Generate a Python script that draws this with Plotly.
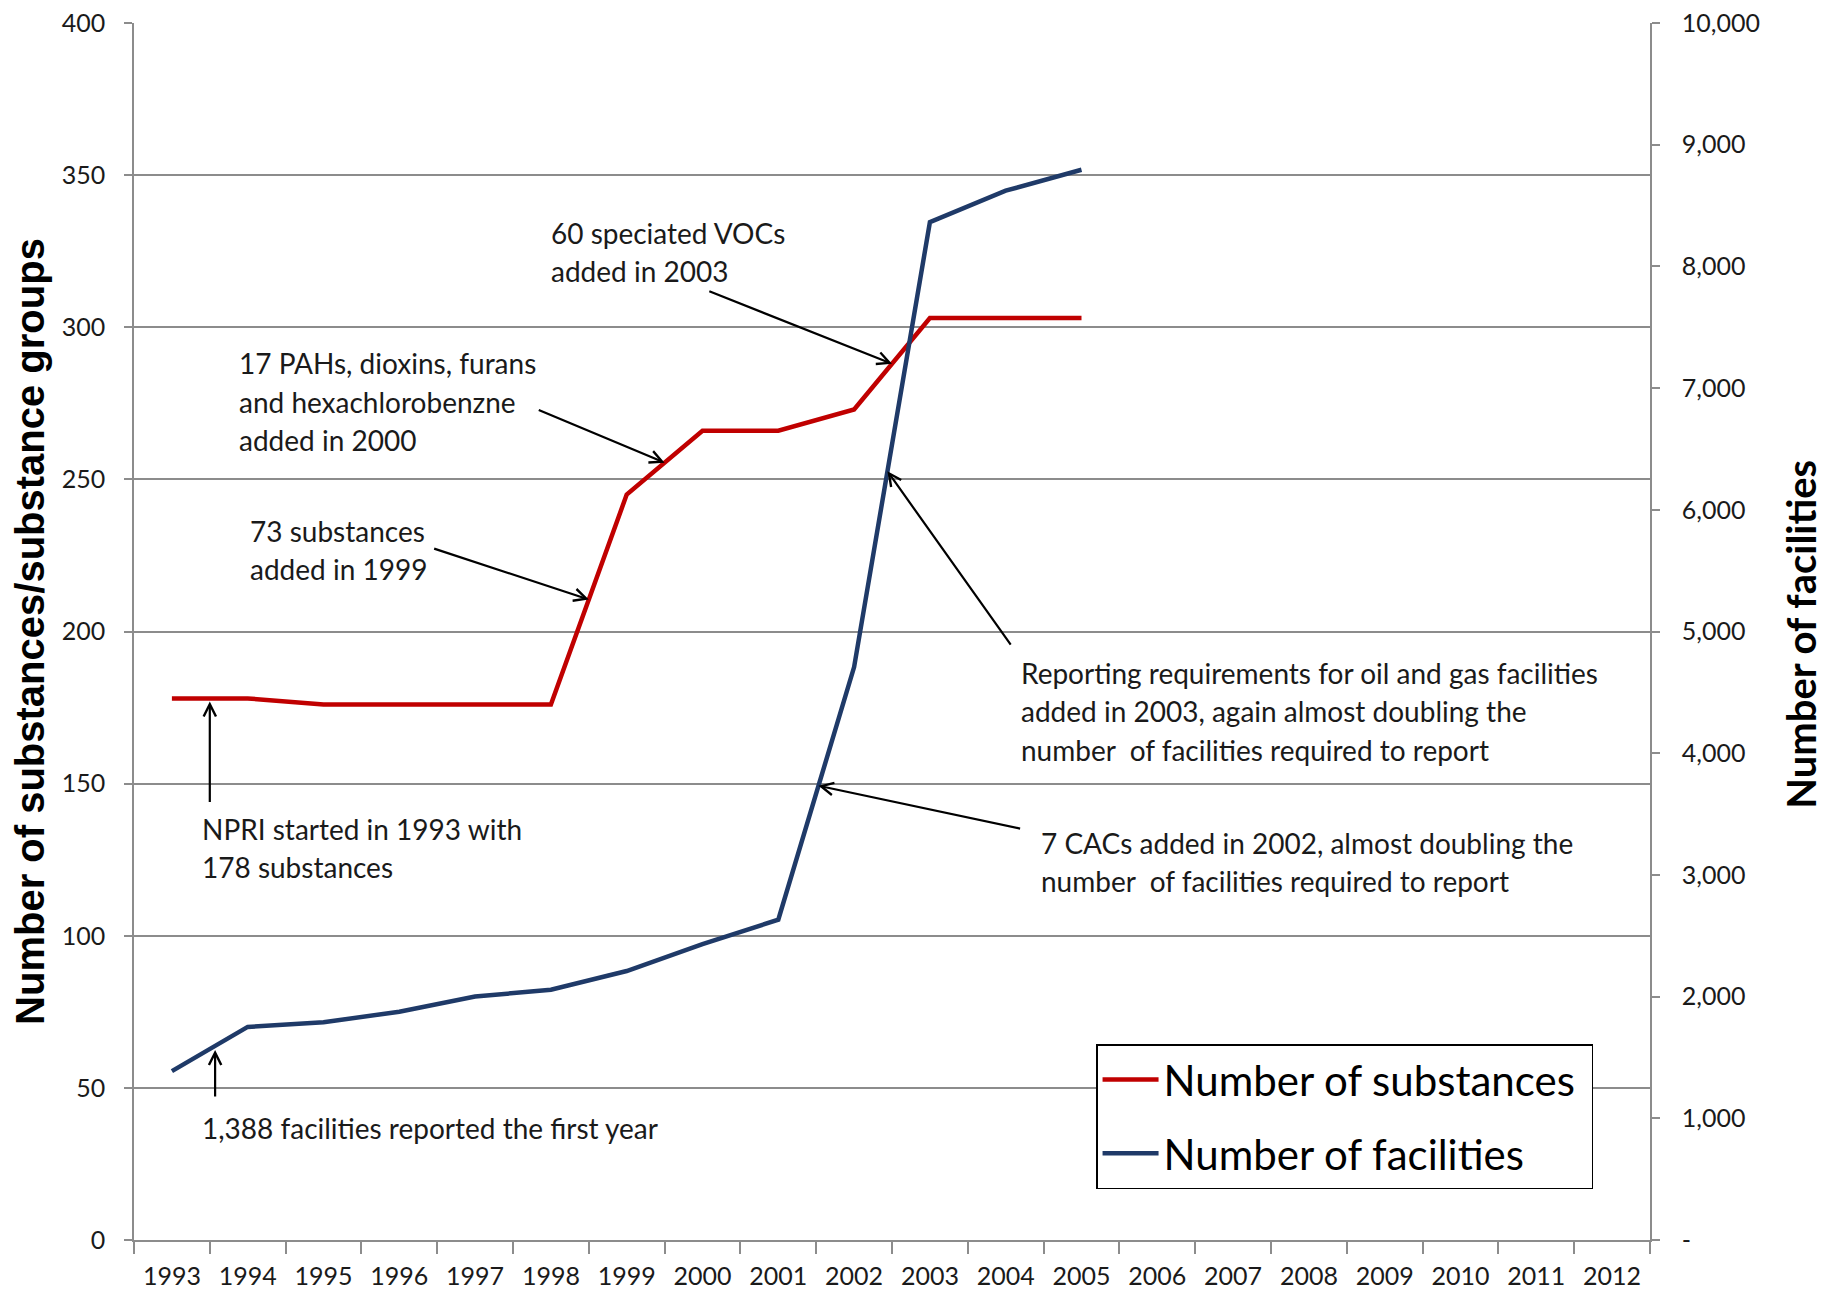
import plotly.graph_objects as go

years = [str(y) for y in range(1993, 2013)]
data_years = years[:13]
substances = [178, 178, 176, 176, 176, 176, 245, 266, 266, 273, 303, 303, 303]
facilities = [1388, 1751, 1789, 1876, 2000, 2057, 2210, 2431, 2632, 4708, 8364, 8622, 8794]
left_ticks = list(range(0, 401, 50))
right_ticks = list(range(0, 10001, 1000))
right_labels = ['-'] + [f'{v:,}' for v in right_ticks[1:]]

voc_note = ['60 speciated VOCs', 'added in 2003']
pah_note = ['17 PAHs, dioxins, furans', 'and hexachlorobenzne', 'added in 2000']
sub73_note = ['73 substances', 'added in 1999']
npri_note = ['NPRI started in 1993 with', '178 substances']
first_note = ['1,388 facilities reported the first year']
oil_note = ['Reporting requirements for oil and gas facilities',
            'added in 2003, again almost doubling the',
            'number  of facilities required to report']
cac_note = ['7 CACs added in 2002, almost doubling the',
            'number  of facilities required to report']

RED = '#C00000'
BLUE = '#1F3A68'
GRID = '#8C8C8C'
FONT = 'Lato'


def seg(series, i, f):
    # point a fraction f along the segment from category i to i+1
    return i + f, series[i] + f * (series[i + 1] - series[i])


fig = go.Figure()
# trailing nbsp widens the legend box a little, like the original
fig.add_trace(go.Scatter(x=data_years, y=substances, name='Number of substances\u00a0',
                         mode='lines', line=dict(color=RED, width=4.5),
                         legendgroup='a'))
fig.add_trace(go.Scatter(x=data_years, y=facilities, name='Number of facilities',
                         mode='lines', line=dict(color=BLUE, width=4.5),
                         yaxis='y2', legendgroup='b'))

annotations = []


def add_lines(lines, x, y0, step=12.63):
    for k, t in enumerate(lines):
        annotations.append(dict(x=x, y=y0 - k * step, xref='x', yref='y', text=t,
                                showarrow=False, xanchor='left', yanchor='middle',
                                font=dict(family=FONT, size=28, color='#1a1a1a')))


def add_arrow(head, tail, yref='y', standoff=0):
    annotations.append(dict(x=head[0], y=head[1], ax=tail[0], ay=tail[1],
                            xref='x', yref=yref, axref='x', ayref=yref, text='',
                            showarrow=True, arrowhead=5, arrowsize=1.1, arrowwidth=2.2,
                            arrowcolor='black', standoff=standoff))


add_lines(voc_note, 4.98, 331.1)
add_lines(pah_note, 0.86, 288.2)
add_lines(sub73_note, 1.0, 233.1)
add_lines(npri_note, 0.37, 135.1)
add_lines(first_note, 0.37, 36.7)
add_lines(oil_note, 11.17, 186.4)
add_lines(cac_note, 11.44, 130.5)

add_arrow(seg(substances, 9, 0.5), (7.07, 312))
add_arrow(seg(substances, 6, 0.5), (4.82, 273))
add_arrow(seg(substances, 5, 0.5), (3.44, 227.4))
h = seg(substances, 0, 0.5)
add_arrow(h, (h[0], 143.5), standoff=3)
h = seg(facilities, 0, 0.57)
add_arrow(h, (h[0], 1167), yref='y2', standoff=4)
add_arrow(seg(facilities, 9, 0.44), (11.08, 4880), yref='y2')
add_arrow(seg(facilities, 8, 0.53), (11.21, 3378), yref='y2')

# right axis title placed by hand so it stays inside the window
annotations.append(dict(x=1.0995, y=0.498, xref='paper', yref='paper',
                        text='<b>Number of facilities</b>', textangle=-90,
                        showarrow=False, xanchor='center', yanchor='middle',
                        font=dict(family=FONT, size=40, color='black')))

# the page body adds an 8px offset, so margins are shifted to compensate
fig.update_layout(
    width=1825, height=1290,
    margin=dict(l=126, r=183, t=15, b=58, autoexpand=False),
    paper_bgcolor='white', plot_bgcolor='white',
    font=dict(family=FONT, size=25, color='#1a1a1a'),
    annotations=annotations,
    showlegend=True,
    legend=dict(x=0.6346, y=0.1608, xanchor='left', yanchor='top',
                bgcolor='white', bordercolor='black', borderwidth=1.5,
                font=dict(family=FONT, size=42, color='black'),
                tracegroupgap=16, itemwidth=56),
    xaxis=dict(type='category', categoryorder='array', categoryarray=years,
               range=[-0.5, 19.5], tickson='boundaries', ticks='outside',
               ticklen=12, tickcolor=GRID, tickwidth=1.5, ticklabelstandoff=13,
               showline=True, linecolor=GRID, linewidth=1.5, showgrid=False,
               tickfont=dict(size=25), ticklabeloverflow='allow'),
    yaxis=dict(range=[0, 400], tickvals=left_ticks, ticks='outside', ticklen=8,
               tickcolor=GRID, tickwidth=1.5, showline=True, linecolor=GRID,
               linewidth=1.5, showgrid=True, gridcolor=GRID, gridwidth=1.5,
               zeroline=False, tickfont=dict(size=25), ticklabelstandoff=14,
               ticklabeloverflow='allow',
               title=dict(text='<b>Number of substances/substance groups</b>',
                          font=dict(family='Liberation Sans', size=40, color='black'),
                          standoff=12)),
    yaxis2=dict(range=[0, 10000], tickvals=right_ticks, ticktext=right_labels,
                overlaying='y', side='right', ticks='outside', ticklen=8,
                tickcolor=GRID, tickwidth=1.5, showline=True, linecolor=GRID,
                linewidth=1.5, showgrid=False, zeroline=False,
                tickfont=dict(size=25), ticklabelstandoff=17,
                ticklabeloverflow='allow'),
)

fig.write_html('out.html')
